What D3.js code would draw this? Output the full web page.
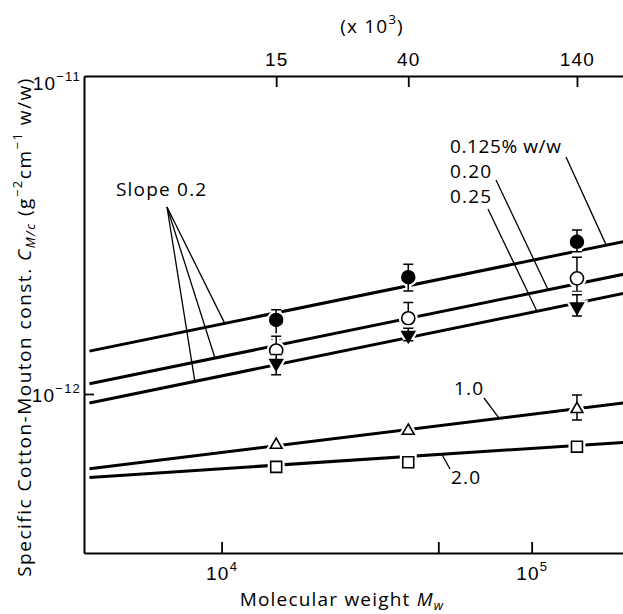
<!DOCTYPE html>
<html>
<head>
<meta charset="utf-8">
<script src="https://cdn.jsdelivr.net/npm/d3@7"></script>
<style>
  body { margin: 0; background: #fff; }
  svg { font-family: "Open Sans", "DejaVu Sans", sans-serif; letter-spacing: 1.2px; }
</style>
</head>
<body>
<svg width="623" height="614"></svg>
<script>
// molecular weights of the three samples
var mw = [15000, 40000, 140000];
var topTickLabels = ["15", "40", "140"];

// specific Cotton-Mouton constant per concentration
var c0125 = [1.71e-12, 2.33e-12, 3.01e-12];
var c0125Lo = [1.49e-12, 2.11e-12, 2.80e-12];
var c0125Hi = [1.84e-12, 2.56e-12, 3.28e-12];
var c020 = [1.37e-12, 1.73e-12, 2.31e-12];
var c020Lo = [1.23e-12, 1.62e-12, 2.10e-12];
var c020Hi = [1.52e-12, 1.94e-12, 2.69e-12];
var c025 = [1.25e-12, 1.53e-12, 1.88e-12];
var c025Lo = [1.15e-12, 1.47e-12, 1.76e-12];
var c025Hi = [1.33e-12, 1.61e-12, 2.05e-12];
var c10 = [6.92e-13, 7.66e-13, 8.96e-13];
var c10Lo = [null, null, 8.28e-13];
var c10Hi = [null, null, 9.93e-13];
var c20 = [5.90e-13, 6.10e-13, 6.83e-13];

// fitted straight lines (log-log): value at Mw = 1e4 and slope
var fitAt1e4 = [1.66e-12, 1.31e-12, 1.14e-12, 6.55e-13, 5.82e-13];
var fitSlope = [0.2, 0.2, 0.2, 0.12, 0.064];
var fitRange = [3750, 230000];

var svg = d3.select("svg");
var padLeft = 84, padTop = 76, padBottom = 553;
var fs = 19, fsSup = 13;

var x = d3.scaleLog().domain([3600, 200000]).range([padLeft, 625]);
var y = d3.scaleLog().domain([Math.pow(10, -12.5), 1e-11]).range([padBottom, padTop]);

function fit(i, m) {
  return fitAt1e4[i] * Math.pow(m / 1e4, fitSlope[i]);
}

// ---- axes ----
function supLabel(sel, base, exp, anchor) {
  sel.text(null).attr("text-anchor", anchor);
  sel.append("tspan").text(base);
  sel.append("tspan").attr("dy", -9).attr("font-size", fsSup).text(exp);
}

var xBottom = svg.append("g").attr("transform", "translate(0," + padBottom + ")")
  .call(d3.axisBottom(x).tickValues([1e4, 5e4, 1e5]).tickSize(-11).tickSizeOuter(0).tickPadding(9));
xBottom.selectAll(".tick text").each(function(d) {
  var t = d3.select(this).attr("font-size", fs).attr("fill", "#000").attr("dy", "0.95em");
  if (d === 5e4) t.remove();
  else supLabel(t, "10", String(Math.round(Math.log10(d))), "middle");
});

var xTop = svg.append("g").attr("transform", "translate(0," + padTop + ")")
  .call(d3.axisTop(x).tickValues(mw).tickSize(-11).tickSizeOuter(0).tickPadding(10)
    .tickFormat(function(d, i) { return topTickLabels[i]; }));
xTop.selectAll(".tick text").attr("font-size", fs).attr("fill", "#000");

var yLeft = svg.append("g").attr("transform", "translate(" + padLeft + ",0)")
  .call(d3.axisLeft(y).tickValues([1e-12, 1e-11]).tickSize(-10).tickSizeOuter(0).tickPadding(3));
yLeft.selectAll(".tick line").filter(function(d) { return d === 1e-11; }).remove();
yLeft.selectAll(".tick text").each(function(d) {
  var t = d3.select(this).attr("font-size", fs).attr("fill", "#000")
    .attr("dy", d === 1e-11 ? "0.7em" : "0.4em");
  supLabel(t, "10", "\u2212" + String(-Math.round(Math.log10(d))), "end");
});

svg.selectAll(".domain").attr("stroke", "#000").attr("stroke-width", 2);
svg.selectAll(".tick line").attr("stroke", "#000").attr("stroke-width", 1.8);

// axis titles
var topTitle = svg.append("text").attr("x", 372).attr("y", 33).attr("text-anchor", "middle").attr("font-size", fs);
topTitle.append("tspan").text("(x 10");
topTitle.append("tspan").attr("dy", -9).attr("font-size", fsSup).text("3");
topTitle.append("tspan").attr("dy", 9).text(")");

var xTitle = svg.append("text").attr("x", 342).attr("y", 606).attr("text-anchor", "middle").attr("font-size", fs);
xTitle.append("tspan").text("Molecular weight  ");
xTitle.append("tspan").attr("font-style", "italic").text("M");
xTitle.append("tspan").attr("font-style", "italic").attr("font-size", fsSup).attr("dy", 4).text("w");

var yTitle = svg.append("text").attr("transform", "translate(31,327) rotate(-90)")
  .attr("text-anchor", "middle").attr("font-size", fs).attr("letter-spacing", 1.5);
yTitle.append("tspan").text("Specific Cotton-Mouton const. ");
yTitle.append("tspan").attr("font-style", "italic").text("C");
yTitle.append("tspan").attr("font-style", "italic").attr("font-size", fsSup).attr("dy", 4).text("M/c");
yTitle.append("tspan").attr("dy", -4).text(" (g");
yTitle.append("tspan").attr("dy", -9).attr("font-size", fsSup).text("\u22122");
yTitle.append("tspan").attr("dy", 9).text("cm");
yTitle.append("tspan").attr("dy", -9).attr("font-size", fsSup).text("\u22121");
yTitle.append("tspan").attr("dy", 9).text(" w/w)");

// ---- fitted lines ----
var line = d3.line().x(function(d) { return x(d[0]); }).y(function(d) { return y(d[1]); });
fitAt1e4.forEach(function(v, i) {
  svg.append("path")
    .attr("d", line(fitRange.map(function(m) { return [m, fit(i, m)]; })))
    .attr("fill", "none").attr("stroke", "#000").attr("stroke-width", 3);
});

// ---- leader lines and labels ----
function leader(x0, y0, m, i) {
  svg.append("line").attr("x1", x0).attr("y1", y0)
    .attr("x2", x(m)).attr("y2", y(fit(i, m)))
    .attr("stroke", "#000").attr("stroke-width", 1.3);
}
svg.append("text").attr("x", 116).attr("y", 196).attr("font-size", fs).text("Slope 0.2");
leader(167, 207, 10240, 0);
leader(167, 207, 9520, 1);
leader(167, 207, 8200, 2);

svg.append("text").attr("x", 450).attr("y", 153).attr("font-size", fs).attr("letter-spacing", 0.6).text("0.125% w/w");
svg.append("text").attr("x", 450).attr("y", 178).attr("font-size", fs).text("0.20");
svg.append("text").attr("x", 450).attr("y", 203).attr("font-size", fs).text("0.25");
leader(566, 157, 174000, 0);
leader(496, 180, 113000, 1);
leader(488, 209, 104000, 2);

svg.append("text").attr("x", 454).attr("y", 395).attr("font-size", fs).text("1.0");
leader(484, 398, 78600, 3);
svg.append("text").attr("x", 451).attr("y", 484).attr("font-size", fs).text("2.0");
leader(450, 469, 51300, 4);

// ---- data points ----
var series = [
  { v: c0125, lo: c0125Lo, hi: c0125Hi, shape: d3.symbolCircle, size: 130, fill: "#000", rot: 0 },
  { v: c020, lo: c020Lo, hi: c020Hi, shape: d3.symbolCircle, size: 135, fill: "#fff", rot: 0 },
  { v: c025, lo: c025Lo, hi: c025Hi, shape: d3.symbolTriangle, size: 70, fill: "#000", rot: 180 },
  { v: c10, lo: c10Lo, hi: c10Hi, shape: d3.symbolTriangle, size: 60, fill: "#fff", rot: 0 },
  { v: c20, lo: null, hi: null, shape: d3.symbolSquare, size: 120, fill: "#fff", rot: 0 }
];

series.forEach(function(s) {
  var g = svg.append("g");
  mw.forEach(function(m, j) {
    var px = x(m), py = y(s.v[j]);
    var hasErr = s.lo && s.lo[j] != null;
    [["#fff", 6], ["#000", 1.5]].forEach(function(st) {
      if (hasErr) {
        var y1 = y(s.hi[j]), y2 = y(s.lo[j]);
        g.append("path")
          .attr("d", "M" + px + "," + y1 + "V" + y2 + "M" + (px - 5) + "," + y1 + "H" + (px + 5) +
            "M" + (px - 5) + "," + y2 + "H" + (px + 5))
          .attr("stroke", st[0]).attr("stroke-width", st[1]).attr("fill", "none");
      }
      g.append("path")
        .attr("d", d3.symbol().type(s.shape).size(s.size)())
        .attr("transform", "translate(" + px + "," + py + ") rotate(" + s.rot + ")")
        .attr("fill", st[0] === "#fff" ? "#fff" : s.fill)
        .attr("stroke", st[0]).attr("stroke-width", st[0] === "#fff" ? 6 : 1.6);
    });
  });
});
</script>
</body>
</html>
